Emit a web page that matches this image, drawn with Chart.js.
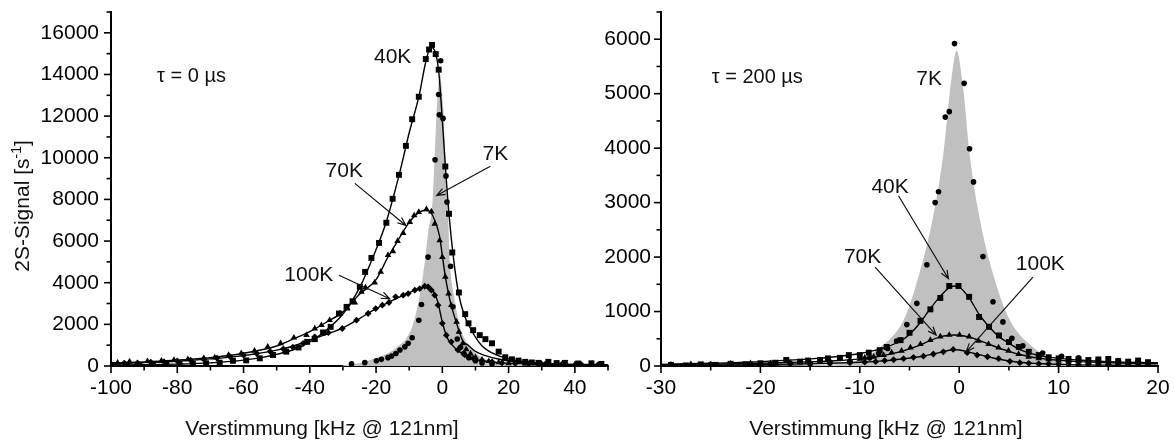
<!DOCTYPE html>
<html>
<head>
<meta charset="utf-8">
<title>2S-Signal</title>
<script src="https://cdn.jsdelivr.net/npm/chart.js@4.4.0/dist/chart.umd.min.js"></script>
<style>
  html, body { margin: 0; padding: 0; background: #fff; }
  #wrap { position: relative; width: 1175px; height: 443px; overflow: hidden; }
  #leftBox, #rightBox { position: absolute; top: 0; height: 443px; }
  #leftBox { left: 0; width: 625px; }
  #rightBox { left: 590px; width: 585px; }
</style>
</head>
<body>
<div id="wrap">
  <div id="leftBox"><canvas id="leftChart" width="625" height="443"></canvas></div>
  <div id="rightBox"><canvas id="rightChart" width="585" height="443"></canvas></div>
</div>
<script>
const FONT = 'Arial, "Liberation Sans", Helvetica, sans-serif';

// ---- tau = 0 us panel ----
const t0XLabels = [-100, -80, -60, -40, -20, 0, 20, 40];
const t0YLabels = [0, 2000, 4000, 6000, 8000, 10000, 12000, 14000, 16000];

// 40K, squares
const t0K40x = [-99.3, -95.3, -91.4, -87.3, -83.3, -79.3, -75.3, -71.3, -67.2, -63.2, -59.2, -55.1, -51.1, -47.1, -43.4, -40.8, -38.5, -36, -33.7, -31.2, -28.9, -27.1, -24.9, -23.3, -21.4, -19.1, -16.9, -15, -13.1, -11, -9.1, -7.1, -5, -4, -3.1, -2, -1.1, 0.9, 2, 3, 5, 6.9, 7.9, 9.3, 11.3, 13, 15, 17, 19, 21, 23, 25, 27, 29, 32, 34.5, 37, 41, 45, 48];
const t0K40y = [40, 60, 50, 80, 70, 90, 100, 130, 160, 250, 270, 370, 530, 690, 890, 1160, 1290, 1610, 1880, 2520, 2840, 3110, 3800, 4520, 5190, 5910, 6880, 8030, 9180, 10570, 11850, 12930, 14740, 15200, 15420, 14980, 14230, 9580, 7310, 5450, 3530, 2490, 2050, 1720, 1480, 1290, 1090, 690, 420, 320, 260, 200, 170, 150, 200, 140, 150, 120, 130, 100];
const t0K40fitX = [-100, -90, -80, -70, -60, -50, -43, -36, -30, -25, -21, -17, -13, -10, -7, -5, -3.5, -2, -1, 0, 1, 2, 3.5, 5, 6.5, 8.5, 11.8, 16.3, 21.3, 30, 40, 50];
const t0K40fitY = [40, 60, 90, 150, 280, 560, 900, 1600, 2500, 3750, 5200, 6880, 9200, 11200, 13000, 14600, 15300, 15000, 14000, 11800, 9400, 7300, 5000, 3400, 2500, 1800, 1000, 530, 290, 120, 60, 40];

// 70K, triangles
const t0K70x = [-98, -94.4, -89, -84.8, -81, -76.8, -72, -68.7, -64.5, -60.7, -56.7, -52.7, -48.8, -44.8, -41, -38.5, -36.5, -34, -30.9, -28.7, -26.4, -24.4, -23.2, -20.4, -18.6, -16.4, -14.9, -13.5, -11.8, -9.8, -8.5, -7.1, -4.8, -3.3, -2.3, -0.8, 0, 0.9, 1.9, 2.7, 4.3, 5, 6.2, 7.2, 8.5, 10, 12, 14, 17, 20, 25, 30, 40, 48];
const t0K70y = [150, 210, 230, 250, 280, 320, 370, 400, 530, 610, 730, 920, 1090, 1360, 1480, 1800, 1960, 2200, 2520, 2760, 3050, 3560, 3770, 4010, 4520, 5320, 5510, 6000, 6380, 6910, 7230, 7390, 7520, 7420, 6830, 6030, 5230, 4280, 3480, 2920, 2120, 1640, 1090, 800, 600, 420, 300, 230, 170, 130, 110, 90, 70, 50];
const t0K70fitX = [-100, -90, -80, -70, -60, -50, -45, -40, -35, -30, -25, -20, -16.5, -13.5, -10, -7, -5, -3.5, -2.3, -0.8, 0, 0.9, 1.9, 2.7, 4.3, 6.2, 7.8, 10, 12.3, 18.3, 25, 35, 50];
const t0K70fitY = [130, 200, 280, 400, 610, 960, 1300, 1650, 2100, 2600, 3450, 4150, 5200, 6000, 6900, 7380, 7480, 7380, 7000, 6200, 5300, 4300, 3450, 2900, 2050, 1200, 1000, 700, 530, 290, 170, 100, 60];

// 100K, diamonds
const t0K100x = [-100, -96, -92, -88, -84, -80, -76, -72, -68, -64, -60, -56, -52, -48, -45.1, -42, -38.5, -34.4, -30.2, -25.9, -22.4, -20.1, -18.1, -16.1, -14.1, -11.8, -10.3, -8.3, -6.8, -5.3, -4.3, -3.3, -2.3, -1.3, 0, 1.2, 2.7, 4.7, 6.8, 9.3, 12, 15, 18, 22, 26, 31, 36, 42, 47];
const t0K100y = [100, 140, 150, 190, 210, 240, 280, 330, 380, 440, 520, 600, 700, 820, 900, 1090, 1400, 1600, 1800, 2200, 2520, 2760, 2920, 3050, 3320, 3400, 3480, 3640, 3720, 3830, 3800, 3640, 3400, 2920, 2050, 1480, 1160, 770, 530, 370, 250, 200, 150, 120, 100, 90, 80, 60, 60];
const t0K100fitX = [-100, -90, -80, -70, -60, -50, -45, -40, -35, -30, -25, -20, -16, -12, -8, -5, -3, -1.5, 0, 1.5, 3, 5, 8, 12, 18, 25, 35, 50];
const t0K100fitY = [110, 160, 230, 340, 500, 760, 960, 1250, 1520, 1830, 2280, 2760, 3080, 3380, 3660, 3800, 3650, 3150, 2100, 1350, 1000, 700, 420, 250, 150, 100, 70, 50];

// 7K, circles and shaded profile
const t0K7x = [-27.4, -23.4, -19.9, -18.4, -16.4, -15.3, -14, -12.8, -11.3, -10.3, -9.1, -7.1, -6.3, -4.3, -2.2, -1.1, -0.9, -0.5, 0.2, 1.1, 1.4, 2.5, 3.2, 4.5, 5.5, 6.5, 8, 10, 12, 15];
const t0K7y = [100, 160, 250, 320, 400, 480, 600, 770, 920, 1090, 1360, 2200, 2950, 5230, 9900, 13040, 12060, 14660, 11890, 9130, 7870, 4790, 2840, 1300, 900, 600, 400, 250, 150, 100];
const t0K7fitX = [-30, -25, -20, -16, -13, -11, -9.3, -8, -6.8, -5.3, -4.3, -3.0, -2.3, -1.6, -0.7, 0.2, 0.9, 1.6, 2.3, 3.5, 5.5, 8, 11, 15, 20, 30];
const t0K7fitY = [40, 150, 370, 650, 1000, 1300, 1800, 2500, 3400, 5000, 6400, 7800, 10100, 12600, 14000, 12600, 10100, 7800, 5000, 3400, 1800, 1000, 500, 220, 90, 30];

// ---- tau = 200 us panel ----
const t200XLabels = [-30, -20, -10, 0, 10, 20];
const t200YLabels = [0, 1000, 2000, 3000, 4000, 5000, 6000];

const t200K40x = [-29, -27.5, -26, -24.5, -23, -21.5, -20, -18.5, -17.4, -16, -15.2, -14, -13.2, -12, -11.1, -10, -9.1, -8, -7.3, -5.9, -5, -3.9, -2.9, -1.9, -1, -0.07, 1, 2, 3, 4, 5, 6, 7, 8, 9, 10, 11, 12, 13, 14, 15, 16, 17, 18, 19];
const t200K40y = [20, 10, 30, 20, 40, 30, 50, 60, 110, 80, 100, 110, 140, 150, 200, 200, 245, 290, 350, 475, 610, 830, 1040, 1250, 1470, 1470, 1270, 900, 720, 560, 440, 350, 260, 200, 160, 140, 130, 120, 110, 120, 130, 90, 80, 100, 70];
const t200K40fitX = [-30, -25, -20, -15, -12, -10, -8, -6, -5, -4, -3, -2, -1, -0.5, 0, 1, 2, 3, 4, 5, 6, 7, 8, 10, 12, 15, 20];
const t200K40fitY = [30, 50, 80, 130, 180, 230, 310, 450, 580, 780, 1030, 1260, 1440, 1470, 1450, 1250, 950, 720, 540, 420, 310, 240, 190, 140, 110, 80, 60];

const t200K70x = [-29, -27, -25, -23, -21, -19, -17, -15, -13, -11, -10, -9.5, -8.6, -7.6, -6.8, -5.8, -4.9, -3.9, -2.9, -1.9, -1, 0.03, 1, 1.95, 2.95, 3.96, 4.97, 5.97, 6.98, 8, 9, 10, 11, 12, 13, 14, 15, 16, 17, 18, 19];
const t200K70y = [20, 30, 20, 40, 50, 50, 60, 70, 90, 110, 130, 150, 170, 200, 245, 280, 340, 400, 475, 540, 570, 570, 540, 460, 400, 340, 280, 220, 170, 140, 120, 100, 90, 80, 70, 70, 60, 50, 50, 40, 40];
const t200K70fitX = [-30, -25, -20, -15, -12, -10, -8, -6, -4, -3, -2, -1, -0.5, 0, 1, 2, 3, 4, 5, 6, 7, 8, 10, 12, 15, 20];
const t200K70fitY = [25, 35, 50, 75, 100, 130, 180, 260, 380, 460, 530, 565, 570, 565, 530, 470, 400, 330, 270, 215, 175, 145, 105, 80, 60, 40];

const t200K100x = [-29, -27, -25, -23, -21, -19, -17, -15, -13, -11, -9.5, -8.4, -7.5, -6.6, -5.6, -4.6, -3.6, -2.6, -1.6, -0.6, 0.8, 1.8, 2.85, 3.96, 5.1, 6.1, 7, 8, 9, 10, 11, 12, 13, 14, 15, 16, 17, 18];
const t200K100y = [10, 20, 10, 20, 30, 30, 40, 50, 50, 60, 70, 80, 100, 115, 135, 160, 180, 220, 260, 305, 245, 200, 170, 135, 85, 60, 50, 40, 40, 30, 30, 20, 30, 20, 20, 10, 20, 10];
const t200K100fitX = [-30, -20, -15, -12, -10, -8, -6, -4, -2, -1, -0.5, 0, 1, 2, 3, 4, 6, 8, 10, 15, 20];
const t200K100fitY = [10, 25, 40, 55, 70, 90, 125, 170, 245, 290, 300, 295, 255, 210, 165, 125, 70, 45, 30, 15, 10];

const t200K7x = [-29, -27, -25, -23, -21, -19, -17, -15, -13, -11, -9, -8.1, -7.2, -6.3, -5.27, -4.26, -3.25, -2.42, -2.08, -1.4, -1, -0.47, 0.5, 1.04, 1.44, 2.39, 3.4, 4.4, 5.3, 6.4, 8.4, 10.3, 12, 14, 16, 18];
const t200K7y = [20, 10, 30, 20, 40, 30, 50, 40, 60, 90, 150, 230, 320, 460, 760, 1150, 1860, 3000, 3200, 4570, 4670, 5920, 5190, 3990, 3380, 2010, 1180, 810, 510, 370, 240, 180, 150, 120, 100, 80];
const t200K7fitX = [-30, -20, -14, -11, -7.9, -5.6, -4.4, -2.7, -1.6, -0.9, -0.25, 0.4, 1.05, 2.1, 3.8, 5.1, 7.4, 10.5, 14, 20];
const t200K7fitY = [0, 5, 20, 60, 350, 840, 1450, 2670, 3890, 5100, 5790, 5100, 3890, 2670, 1450, 840, 350, 60, 20, 5];

const pts = (xs, ys) => xs.map((x, i) => ({ x: x, y: ys[i] }));

function markers(xs, ys, style, radius) {
    return {
        data: pts(xs, ys),
        showLine: false,
        pointStyle: style,
        pointRadius: radius,
        pointHoverRadius: radius,
        pointBackgroundColor: '#000',
        pointBorderColor: '#000',
        pointBorderWidth: 0
    };
}

function fitLine(xs, ys) {
    return {
        data: pts(xs, ys),
        borderColor: '#000',
        borderWidth: 1.4,
        pointRadius: 0,
        cubicInterpolationMode: 'monotone',
        fill: false
    };
}

function shaded(xs, ys) {
    return {
        data: pts(xs, ys),
        borderWidth: 0,
        borderColor: 'rgba(0,0,0,0)',
        backgroundColor: '#c0c0c0',
        pointRadius: 0,
        cubicInterpolationMode: 'monotone',
        fill: 'origin'
    };
}

// major / minor tick marks outside the frame
const tickMarks = {
    id: 'tickMarks',
    afterDraw(chart) {
        const ctx = chart.ctx;
        const xs = chart.scales.x, ys = chart.scales.y;
        ctx.save();
        ctx.strokeStyle = '#000';
        ctx.lineWidth = 1.6;
        xs.ticks.forEach(t => {
            const px = xs.getPixelForValue(t.value);
            const len = t.label !== '' ? 7 : 4.5;
            ctx.beginPath();
            ctx.moveTo(px, ys.bottom);
            ctx.lineTo(px, ys.bottom + len);
            ctx.stroke();
        });
        ys.ticks.forEach(t => {
            const py = ys.getPixelForValue(t.value);
            const len = t.label !== '' ? 7 : 4.5;
            ctx.beginPath();
            ctx.moveTo(xs.left, py);
            ctx.lineTo(xs.left - len, py);
            ctx.stroke();
        });
        ctx.restore();
    }
};

// temperature labels, arrows and axis titles
function makeNotes(labels, arrows, xTitleAt, withYTitle) {
    return {
        id: 'notes',
        afterDraw(chart) {
            const ctx = chart.ctx;
            const xs = chart.scales.x, ys = chart.scales.y;
            ctx.save();
            ctx.fillStyle = '#111';
            ctx.strokeStyle = '#111';
            ctx.textBaseline = 'middle';
            labels.forEach(l => {
                ctx.font = l.size + 'px ' + FONT;
                ctx.textAlign = l.align || 'center';
                ctx.fillText(l.text, xs.getPixelForValue(l.x), ys.getPixelForValue(l.y));
            });
            ctx.lineWidth = 1.2;
            arrows.forEach(a => {
                const x1 = xs.getPixelForValue(a.x1), y1 = ys.getPixelForValue(a.y1);
                const x2 = xs.getPixelForValue(a.x2), y2 = ys.getPixelForValue(a.y2);
                const ang = Math.atan2(y2 - y1, x2 - x1);
                ctx.beginPath();
                ctx.moveTo(x1, y1);
                ctx.lineTo(x2, y2);
                ctx.moveTo(x2 - 9 * Math.cos(ang - 0.38), y2 - 9 * Math.sin(ang - 0.38));
                ctx.lineTo(x2, y2);
                ctx.lineTo(x2 - 9 * Math.cos(ang + 0.38), y2 - 9 * Math.sin(ang + 0.38));
                ctx.stroke();
            });

            ctx.font = '21px ' + FONT;
            ctx.textAlign = 'center';
            ctx.textBaseline = 'alphabetic';
            ctx.fillText('Verstimmung [kHz @ 121nm]', xTitleAt, 435);

            if (withYTitle) {
                const main = '2S-Signal [s';
                const sup = '-1';
                const tail = ']';
                ctx.font = '21px ' + FONT;
                const wMain = ctx.measureText(main).width;
                const wTail = ctx.measureText(tail).width;
                ctx.font = '14px ' + FONT;
                const wSup = ctx.measureText(sup).width;
                const total = wMain + wSup + wTail;
                ctx.translate(28.5, 206);
                ctx.rotate(-Math.PI / 2);
                ctx.textAlign = 'left';
                let pos = -total / 2;
                ctx.font = '21px ' + FONT;
                ctx.fillText(main, pos, 0);
                pos += wMain;
                ctx.font = '14px ' + FONT;
                ctx.fillText(sup, pos, -8);
                pos += wSup;
                ctx.font = '21px ' + FONT;
                ctx.fillText(tail, pos, 0);
            }
            ctx.restore();
        }
    };
}

function makePanel(canvasId, p) {
    const ctx = document.getElementById(canvasId).getContext('2d');
    return new Chart(ctx, {
        type: 'line',
        data: {
            datasets: [
                markers(p.k40x, p.k40y, 'rect', 4.2),
                markers(p.k70x, p.k70y, 'triangle', 3.8),
                markers(p.k100x, p.k100y, 'rectRot', 3.4),
                markers(p.k7x, p.k7y, 'circle', 2.8),
                fitLine(p.k40fx, p.k40fy),
                fitLine(p.k70fx, p.k70fy),
                fitLine(p.k100fx, p.k100fy),
                shaded(p.k7fx, p.k7fy)
            ]
        },
        options: {
            responsive: false,
            animation: false,
            layout: { padding: { top: 12, right: 17, left: 0, bottom: 0 } },
            plugins: { legend: { display: false }, tooltip: { enabled: false } },
            scales: {
                x: {
                    type: 'linear',
                    min: p.xMin,
                    max: p.xMax,
                    afterFit: s => {
                        s.height = 77;
                        s.paddingLeft = 0;
                        s.paddingRight = 0;
                    },
                    ticks: {
                        stepSize: p.xStep,
                        autoSkip: false,
                        maxRotation: 0,
                        padding: 10,
                        color: '#000',
                        font: { family: FONT, size: 21 },
                        callback: v => p.xLabels.includes(v) ? String(v) : ''
                    },
                    grid: { display: false, drawTicks: false },
                    border: { display: true, color: '#000', width: 2 }
                },
                y: {
                    type: 'linear',
                    min: 0,
                    max: p.yMax,
                    afterFit: s => {
                        s.width = p.yWidth;
                        s.paddingTop = 0;
                        s.paddingBottom = 0;
                    },
                    ticks: {
                        stepSize: p.yStep,
                        autoSkip: false,
                        padding: p.yPad,
                        color: '#000',
                        font: { family: FONT, size: 21 },
                        callback: v => p.yLabels.includes(v) ? String(v) : ''
                    },
                    grid: { display: false, drawTicks: false },
                    border: { display: true, color: '#000', width: 2 }
                }
            }
        },
        plugins: [tickMarks, makeNotes(p.labels, p.arrows, p.xTitleAt, p.yTitle)]
    });
}

makePanel('leftChart', {
    k40x: t0K40x, k40y: t0K40y, k40fx: t0K40fitX, k40fy: t0K40fitY,
    k70x: t0K70x, k70y: t0K70y, k70fx: t0K70fitX, k70fy: t0K70fitY,
    k100x: t0K100x, k100y: t0K100y, k100fx: t0K100fitX, k100fy: t0K100fitY,
    k7x: t0K7x, k7y: t0K7y, k7fx: t0K7fitX, k7fy: t0K7fitY,
    xMin: -100, xMax: 50, xStep: 10, xLabels: t0XLabels,
    yMax: 17000, yStep: 1000, yLabels: t0YLabels,
    yWidth: 111, yPad: 12,
    xTitleAt: 322, yTitle: true,
    labels: [
        { text: 'τ = 0 µs', x: -86.1, y: 13890, size: 20, align: 'left' },
        { text: '40K', x: -15.0, y: 14850, size: 21 },
        { text: '70K', x: -29.6, y: 9340, size: 21 },
        { text: '7K', x: 16.0, y: 10150, size: 21 },
        { text: '100K', x: -40.3, y: 4360, size: 21 }
    ],
    arrows: [
        { x1: -26.4, y1: 8770, x2: -11.0, y2: 6750 },
        { x1: 14.5, y1: 9590, x2: -1.7, y2: 8190 },
        { x1: -31.2, y1: 4360, x2: -15.9, y2: 3230 }
    ]
});

makePanel('rightChart', {
    k40x: t200K40x, k40y: t200K40y, k40fx: t200K40fitX, k40fy: t200K40fitY,
    k70x: t200K70x, k70y: t200K70y, k70fx: t200K70fitX, k70fy: t200K70fitY,
    k100x: t200K100x, k100y: t200K100y, k100fx: t200K100fitX, k100fy: t200K100fitY,
    k7x: t200K7x, k7y: t200K7y, k7fx: t200K7fitX, k7fy: t200K7fitY,
    xMin: -30, xMax: 20, xStep: 5, xLabels: t200XLabels,
    yMax: 6500, yStep: 500, yLabels: t200YLabels,
    yWidth: 71, yPad: 10,
    xTitleAt: 296, yTitle: false,
    labels: [
        { text: 'τ = 200 µs', x: -24.9, y: 5300, size: 20, align: 'left' },
        { text: '7K', x: -3.02, y: 5265, size: 21 },
        { text: '40K', x: -6.95, y: 3290, size: 21 },
        { text: '70K', x: -9.72, y: 1990, size: 21 },
        { text: '100K', x: 8.16, y: 1865, size: 21 }
    ],
    arrows: [
        { x1: -6.11, y1: 3126, x2: -1.08, y2: 1603 },
        { x1: -8.46, y1: 1815, x2: -2.32, y2: 567 },
        { x1: 7.42, y1: 1632, x2: 0.70, y2: 261 }
    ]
});
</script>
</body>
</html>
